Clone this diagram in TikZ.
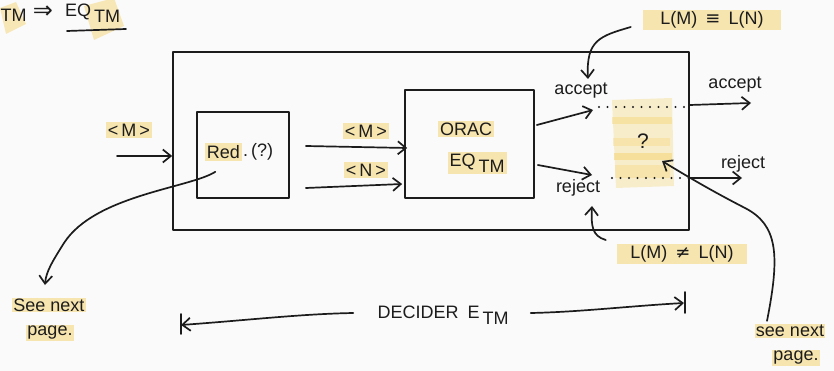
\documentclass[tikz,border=0pt]{standalone}
\usepackage{fontspec}
\setmainfont{Liberation Sans}
\newfontfamily\symfont{DejaVu Sans}
\usetikzlibrary{arrows.meta,calc}
\definecolor{paper}{HTML}{FAFAFA}
\definecolor{marker}{HTML}{F5D574}
\definecolor{ink}{HTML}{1C1C1C}
\tikzset{
  hand/.style={draw=ink, line width=1.7pt, line cap=round, line join=round},
  arr/.style={hand, -{Straight Barb[length=8pt,width=13pt,line width=1.7pt]}},
  lbl/.style={text=ink, inner sep=2pt, font=\fontsize{18}{21}\selectfont},
  caps/.style={text=ink, inner sep=2pt, font=\fontsize{18}{21}\selectfont},
  hl/.style={fill=marker, fill opacity=0.55, text opacity=1},
  dots/.style={draw=ink, line width=2.2pt, line cap=round, dash pattern=on 0pt off 8.5pt},
  boxnode/.style={hand, draw, inner sep=0pt},
}
\begin{document}
\begin{tikzpicture}[x=1pt,y=-1pt]
\fill[paper] (0,0) rectangle (834,371);
\useasboundingbox (0,0) rectangle (834,371);

% heading fragment
\fill[marker, opacity=0.5] (0,8) -- (16,2) -- (26,24) -- (6,34) -- cycle;
\fill[marker, opacity=0.5] (84,6) -- (114,-2) -- (124,26) -- (94,40) -- cycle;
\node[caps, anchor=west, inner sep=0pt] (hdTM) at (0.5,15) {TM};
\node[caps, font=\fontsize{24}{26}\selectfont] (hdImp) at (43,12) {\symfont ⇒};
\node[caps, anchor=west, inner sep=0pt] (hdEQ) at (65,13) {EQ\,\raisebox{-6pt}{TM}};
\coordinate (ulA) at (67,31);
\coordinate (ulB) at (126,29);
\draw[hand] (ulA) -- (ulB);

% outer decider box
\node[boxnode, minimum width=516pt, minimum height=178pt] (decider) at (431,141) {};

% reducer box
\node[boxnode, minimum width=92pt, minimum height=86pt] (redbox) at (243,155) {};
\node[lbl, hl, anchor=east] (redtxt) at (242,152) {Red};
\node[lbl, anchor=west, inner sep=1pt] (redq) at (redtxt.east) {.\,(?)};

% oracle box
\node[boxnode, minimum width=129pt, minimum height=108pt] (orac) at (469.5,144) {};
\node[caps, hl] (oractxt) at (466,129) {ORAC};
\node[caps, hl] (eqtxt) at (477,163) {EQ\,\raisebox{-6pt}{TM}};

% input
\node[lbl, hl] (inM) at (129,130) {<\,M\,>};
\coordinate (inS) at (117,156);
\draw[arr] (inS) -- (inS -| decider.west);

% reducer to oracle
\node[lbl, hl] (toM) at (366,131) {<\,M\,>};
\node[lbl, hl] (toN) at (366,170) {<\,N\,>};
\draw[arr] ($(redbox.east)+(16,-9)$) -- ($(orac.west)+(3,4)$);
\draw[arr] ($(redbox.east)+(16,33)$) -- ($(orac.west)+(-2,40)$);

% oracle outcomes
\coordinate (accT) at (593,110);
\coordinate (rejT) at (592,175);
\draw[arr] ($(orac.east)+(2,-19)$) -- (accT);
\draw[arr] ($(orac.east)+(3,21)$) -- (rejT);
\node[lbl] (accIn) at (581,91) {accept};
\node[lbl] (rejIn) at (578,188) {reject};

% undecided middle region
\begin{scope}
  \fill[marker, opacity=0.35] (612,100) -- (672,98) -- (674,186) -- (616,188) -- cycle;
  \fill[marker, opacity=0.45] (612,117) rectangle (672,124);
  \fill[marker, opacity=0.35] (613,138) rectangle (670,146);
  \fill[marker, opacity=0.55] (614,153) rectangle (672,160);
  \fill[marker, opacity=0.35] (615,165) rectangle (670,178);
\end{scope}
\node[lbl, font=\fontsize{21}{24}\selectfont] (qmark) at (643,141) {?};
\coordinate (dotAccA) at (599,107);
\coordinate (dotRejA) at (612,178);
\draw[dots] (dotAccA) -- (dotAccA -| decider.east);
\draw[dots] (dotRejA) -- (dotRejA -| decider.east);

% decider outcomes
\coordinate (accOut) at (751,103);
\coordinate (rejOut) at (742,178);
\draw[arr] (decider.east |- 0,105) -- (accOut);
\draw[arr] (decider.east |- rejOut) -- (rejOut);
\node[lbl] (accEx) at (735,85) {accept};
\node[lbl] (rejEx) at (743,164) {reject};

% language conditions
\node[lbl, hl, minimum width=138pt] (lmEq) at (712,20) {L(M)\, {\symfont ≡}\, L(N)};
\draw[arr] ($(lmEq.west)+(-12,7)$) .. controls (600,36) and (586,40) .. (588,79);
\node[lbl, hl, minimum width=130pt] (lmNe) at (682,254) {L(M)\, {\symfont ≠}\, L(N)};
\draw[arr] ($(lmNe.west)+(-11,-14)$) .. controls (592,236) and (591,226) .. (592,206);

% pointers to the next page
\node[lbl, hl, inner sep=1pt] (seeR1) at (790,331) {see next};
\node[lbl, hl, inner sep=1pt] (seeR2) at (796,358) {page.};
\draw[arr] ($(seeR1.north)+(-23,-3)$) .. controls (780,255) and (778,225) .. (745,208)
  .. controls (710,190) and (685,175) .. (662,161);
\node[lbl, hl, inner sep=1pt] (seeL1) at (49,305) {See next};
\node[lbl, hl, inner sep=1pt] (seeL2) at (50,333) {page.};
\draw[arr] ($(redtxt.south)+(-8,11)$) .. controls (190,188) and (95,195) .. (64,243)
  .. controls (52,262) and (46,272) .. (45,285);

% decider span
\node[caps] (decLbl) at (443,315) {DECIDER\enspace E\,\raisebox{-6pt}{TM}};
\coordinate (spanL) at (181,325);
\coordinate (spanR) at (684,303);
\draw[arr] ($(decLbl.west)+(-22,-2)$) .. controls (300,314) and (250,320) .. (spanL);
\draw[hand] ($(spanL)+(0,-11)$) -- ($(spanL)+(0,9)$);
\draw[arr] ($(decLbl.east)+(20,-2)$) .. controls (580,312) and (630,306) .. (spanR);
\draw[hand] ($(spanR)+(1,-11)$) -- ($(spanR)+(1,10)$);
\end{tikzpicture}
\end{document}
